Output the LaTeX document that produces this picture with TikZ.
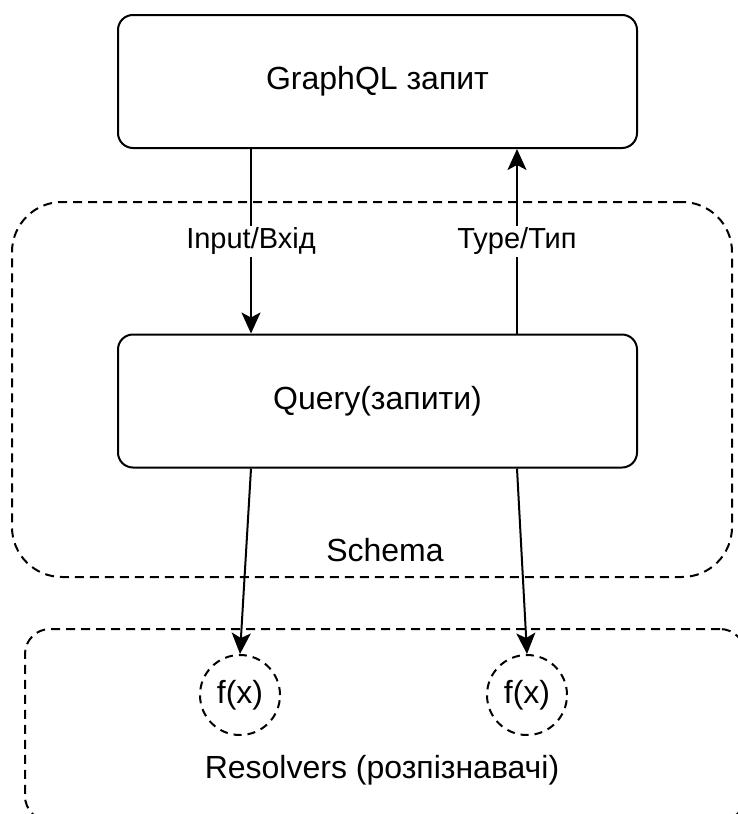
\documentclass[tikz,border=0pt]{standalone}
\usepackage{fontspec}
\setmainfont{Liberation Sans}
\usepackage{tikz}
\usetikzlibrary{arrows.meta}
\usetikzlibrary{positioning}
\usetikzlibrary{shapes}

\begin{document}
\begin{tikzpicture}[x=1pt,y=-1pt]
\tikzset{every node/.style={font=\fontsize{32}{38}\selectfont}}
\tikzset{FlowEdge/.style={line width=2pt, -{Stealth[length=21pt,width=19pt,inset=5pt]}}}

\tikzset{MainBox/.style={
  draw,
  line width=2pt,
  rectangle,
  rounded corners=15pt,
  align=center,
  minimum width=519pt,
  minimum height=133pt,
}}
\tikzset{GroupBox/.style={
  draw,
  line width=2pt,
  dash pattern=on 9pt off 6pt,
  rectangle,
  minimum width=720pt,
}}
\tikzset{FuncNode/.style={
  draw,
  line width=2pt,
  dash pattern=on 8pt off 6pt,
  circle,
  inner sep=0pt,
  minimum size=80pt,
}}
\tikzset{EdgeLabel/.style={fill=white, inner sep=2pt, font=\fontsize{29}{34}\selectfont}}

\useasboundingbox (0,0) rectangle (738,814);

\node[GroupBox, rounded corners=50pt, minimum height=375pt] (schema) at (372,389.5) {};
\node[GroupBox, rounded corners=25pt, minimum height=192pt] (resolvers) at (385,725) {};

\node[MainBox] (request) at (377.5,81.5) {GraphQL запит};
\node[MainBox] (query) at (377.5,401) {Query(запити)};

\node (schemalabel) at (385,550) {Schema};
\node (resolverslabel) at (382,770) {Resolvers (розпізнавачі)};

\node[FuncNode] (funcA) at (240,695) {f(x)};
\node[FuncNode] (funcB) at (527,695) {f(x)};

\draw[FlowEdge] ([xshift=134pt]request.south west) -- ([xshift=134pt]query.north west)
  node[midway, EdgeLabel] {Input/Вхід};
\draw[FlowEdge] ([xshift=400pt]query.north west) -- ([xshift=400pt]request.south west)
  node[midway, EdgeLabel] {Type/Тип};

\draw[FlowEdge] ([xshift=134pt]query.south west) -- (funcA.north);
\draw[FlowEdge] ([xshift=400pt]query.south west) -- (funcB.north);
\end{tikzpicture}
\end{document}
